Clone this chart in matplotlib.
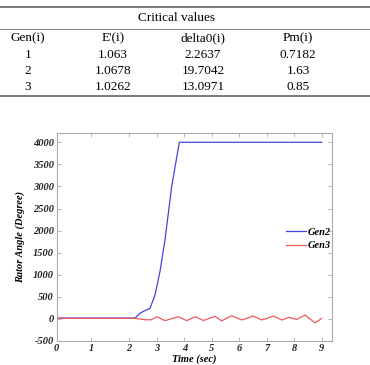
import numpy as np
import matplotlib.pyplot as plt
from matplotlib.lines import Line2D

# table contents
table_title = 'Critical values'
col_names = ['Gen(i)', "E'(i)", 'delta0(i)', 'Pm(i)']
gen_ids = ['1', '2', '3']
e_vals = ['1.063', '1.0678', '1.0262']
delta0_vals = ['2.2637', '19.7042', '13.0971']
pm_vals = ['0.7182', '1.63', '0.85']

# rotor angle curves
t_gen2 = [0, 2.22, 2.4, 2.52, 2.76, 2.94, 3.12, 3.30, 3.54, 3.82, 9.0]
gen2 = [19.7, 20, 130, 171, 240, 547, 1080, 1786, 2986, 4000, 4000]
t_gen3 = [0, 2.22, 2.6, 2.8, 3.0, 3.3, 3.78, 4.09, 4.4, 4.7, 5.12, 5.36, 5.72,
          6.09, 6.51, 6.82, 7.24, 7.55, 7.8, 8.09, 8.39, 8.76, 9.0]
gen3 = [13.1, 13, -20, -20, 50, -39, 50, -39, 50, -35, 60, -45, 72,
        -24, 64, -24, 64, -24, 35, -10, 87, -90, 13]

x_ticks = list(range(10))
y_ticks = list(range(-500, 4001, 500))

# the original time axis is not evenly spaced
warp_t = np.arange(11)
warp_u = np.array([0, 34.3, 72.3, 100, 127.6, 155, 182.6, 210, 237.6, 265, 292.4])


def fwd(t):
    return np.interp(t, warp_t, warp_u)


def inv(u):
    return np.interp(u, warp_u, warp_t)


fig = plt.figure(figsize=(3.7, 3.65), dpi=100)

# ---- table ----
tfont = dict(family='Liberation Serif', size=9.5, va='center', ha='center')
col_x = [28 / 370, 113 / 370, 203 / 370, 298 / 370]
fig.text(177 / 370, 1 - 18.3 / 365, table_title, **tfont)
for cx, name in zip(col_x, col_names):
    fig.text(cx, 1 - 38.3 / 365, name, **tfont)
row_y = [55, 70.7, 87.3]
for i, ry in enumerate(row_y):
    for cx, col in zip(col_x, [gen_ids, e_vals, delta0_vals, pm_vals]):
        fig.text(cx, 1 - ry / 365, col[i], **tfont)
for yy, lw in [(6.7, 1.3), (29.3, 0.6), (96, 1.3)]:
    fig.add_artist(Line2D([0, 1], [1 - yy / 365] * 2, transform=fig.transFigure,
                          color='#707070', lw=lw))

# ---- chart ----
ax = fig.add_axes([56.7 / 370, 1 - 341 / 365, 275 / 370, 208 / 365])
ax.set_xscale('function', functions=(fwd, inv))
ax.plot(t_gen2, gen2, color='#4444e0', lw=0.9, label='Gen2')
ax.plot(t_gen3, gen3, color='#f05a5a', lw=0.9, label='Gen3')

ax.set_xlim(0, 9.365)
ax.set_ylim(-500, 4210)
ax.set_xticks(x_ticks)
ax.set_xticklabels([str(v) for v in x_ticks])
ax.set_yticks(y_ticks)
ax.set_yticklabels([str(v) for v in y_ticks])
ax.minorticks_off()

lab = dict(family='Liberation Serif', weight='bold', style='italic')
for t in ax.get_xticklabels() + ax.get_yticklabels():
    t.set_fontproperties(lab)
    t.set_fontsize(7.5)
ax.tick_params(direction='in', top=True, right=True, length=3, width=0.5,
               color='#999999', labelcolor='#222222', pad=2)
for s in ax.spines.values():
    s.set_color('#aaaaaa')
    s.set_linewidth(0.8)

ax.set_ylabel('Rator Angle (Degree)', fontsize=7.5, **lab)
ax.yaxis.set_label_coords(-0.115, 0.5)
ax.set_xlabel('Time (sec)', fontsize=7.5, **lab)
ax.xaxis.set_label_coords(0.5, -0.062)

ax.legend(loc='upper left', bbox_to_anchor=(281 / 370, 1 - 222 / 365),
          bbox_transform=fig.transFigure, frameon=False, borderpad=0,
          handlelength=1.9, handletextpad=0.2, labelspacing=0.45,
          prop=dict(family='Liberation Serif', weight='bold', style='italic', size=7.5))

plt.savefig('out.png', dpi=100)
